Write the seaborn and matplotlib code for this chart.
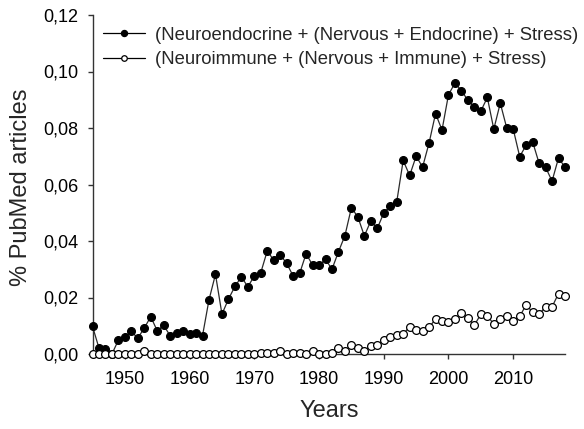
import numpy as np
import pandas as pd
import matplotlib
matplotlib.use("Agg")
import matplotlib.pyplot as plt
from matplotlib.ticker import FuncFormatter
from matplotlib.lines import Line2D
import seaborn as sns

years = list(range(1945, 2019))

neuroendocrine = [
    0.0098, 0.0021, 0.0018, 0.0000, 0.0049, 0.0061, 0.0080, 0.0056, 0.0092, 0.0132,
    0.0082, 0.0102, 0.0064, 0.0073, 0.0082, 0.0071, 0.0076, 0.0065, 0.0192, 0.0282,
    0.0141, 0.0194, 0.0239, 0.0273, 0.0238, 0.0276, 0.0288, 0.0365, 0.0332, 0.0351,
    0.0321, 0.0276, 0.0285, 0.0355, 0.0315, 0.0314, 0.0335, 0.0300, 0.0362, 0.0419,
    0.0518, 0.0485, 0.0418, 0.0471, 0.0445, 0.0499, 0.0524, 0.0538, 0.0685, 0.0632,
    0.0700, 0.0662, 0.0747, 0.0851, 0.0793, 0.0918, 0.0959, 0.0932, 0.0898, 0.0874,
    0.0860, 0.0908, 0.0796, 0.0888, 0.0800, 0.0796, 0.0699, 0.0739, 0.0751, 0.0675,
    0.0661, 0.0612, 0.0694, 0.0661,
]

neuroimmune = [
    0.0, 0.0, 0.0, 0.0, 0.0, 0.0, 0.0, 0.0, 0.0012, 0.0,
    0.0, 0.0, 0.0, 0.0, 0.0, 0.0, 0.0, 0.0, 0.0, 0.0,
    0.0, 0.0, 0.0, 0.0, 0.0, 0.0, 0.0004, 0.0005, 0.0005, 0.0012,
    0.0, 0.0002, 0.0002, 0.0, 0.0009, 0.0, 0.0, 0.0002, 0.0021, 0.0010,
    0.0032, 0.0021, 0.0012, 0.0027, 0.0033, 0.0049, 0.0061, 0.0067, 0.0071, 0.0096,
    0.0086, 0.0082, 0.0094, 0.0124, 0.0118, 0.0115, 0.0124, 0.0144, 0.0127, 0.0102,
    0.0141, 0.0135, 0.0106, 0.0124, 0.0133, 0.0118, 0.0133, 0.0174, 0.0148, 0.0141,
    0.0167, 0.0167, 0.0214, 0.0205,
]

label_endo = "(Neuroendocrine + (Nervous + Endocrine) + Stress)"
label_immu = "(Neuroimmune + (Nervous + Immune) + Stress)"
x_ticks = [1950, 1960, 1970, 1980, 1990, 2000, 2010]
y_ticks = [0.00, 0.02, 0.04, 0.06, 0.08, 0.10, 0.12]

sns.set_style("ticks")
plt.rcParams['font.family'] = ['Liberation Sans', 'DejaVu Sans']

fig = plt.figure(figsize=(5.84, 4.29), dpi=100)
ax = fig.add_axes([92.5/584, 1 - 354/429, (565 - 92.5)/584, (354 - 15)/429])

df_endo = pd.DataFrame({"year": years, "val": neuroendocrine})
df_immu = pd.DataFrame({"year": years, "val": neuroimmune})

line_kw = dict(linewidth=0.9, marker='o', markersize=5.6, markeredgewidth=0.9,
               markeredgecolor='black', clip_on=False)

sns.lineplot(data=df_endo, x="year", y="val", ax=ax, color='#2a2a2a',
             markerfacecolor='black', zorder=3, legend=False, **line_kw)
sns.lineplot(data=df_immu, x="year", y="val", ax=ax, color='#2a2a2a',
             markerfacecolor='white', zorder=4, legend=False, **line_kw)

h1 = Line2D([], [], color='black', linewidth=0.9, marker='o', markersize=4.4,
            markerfacecolor='black', markeredgecolor='black', markeredgewidth=0.9)
h2 = Line2D([], [], color='black', linewidth=0.9, marker='o', markersize=4.0,
            markerfacecolor='white', markeredgecolor='black', markeredgewidth=0.9)
leg = ax.legend([h1, h2], [label_endo, label_immu],
                loc='upper left', bbox_to_anchor=(0.022, 0.965), frameon=False,
                fontsize=13.3, handlelength=2.3, handletextpad=0.53,
                labelspacing=0.4, borderpad=0, borderaxespad=0)

ax.set_xlim(1945, 2018)
ax.set_ylim(0, 0.12)
ax.set_xticks(x_ticks)
ax.set_yticks(y_ticks)
ax.yaxis.set_major_formatter(FuncFormatter(lambda v, p: f"{v:.2f}".replace('.', ',')))

for s in ['top', 'right']:
    ax.spines[s].set_visible(False)
for s in ['left', 'bottom']:
    ax.spines[s].set_linewidth(1.0)
    ax.spines[s].set_color('#333333')

ax.tick_params(axis='both', direction='out', length=3.6, width=1.0, color='#333333',
               labelsize=13, labelcolor='black')
ax.tick_params(axis='y', pad=6.5)
ax.tick_params(axis='x', pad=8.5)

ax.set_xlabel("Years", fontsize=17, va='center')
ax.set_ylabel("% PubMed articles", fontsize=17, va='center')
ax.xaxis.set_label_coords(0.5, (354 - 411) / 339)
ax.yaxis.set_label_coords((21 - 92.5) / 472.5, (354 - 187.5) / 339)

fig.savefig("out.png", dpi=100)
